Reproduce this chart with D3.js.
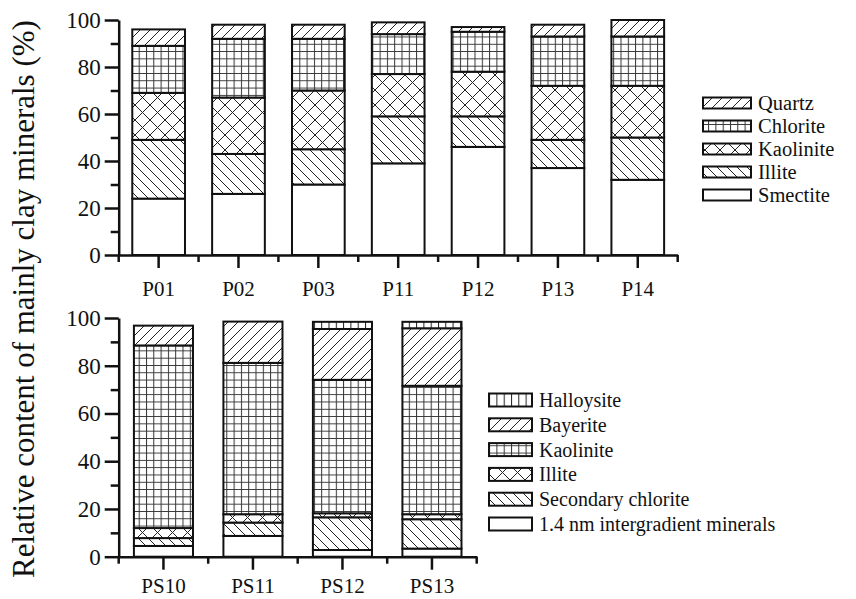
<!DOCTYPE html>
<html>
<head>
<meta charset="utf-8">
<script src="https://cdn.jsdelivr.net/npm/d3@7"></script>
<style>
  html, body { margin: 0; padding: 0; background: #fff; }
  svg { display: block; font-family: "Liberation Serif", "Times New Roman", serif; }
</style>
</head>
<body>
<svg id="chart" width="856" height="599"></svg>
<script>
// Upper panel: clay minerals in P samples (%)
const topSamples = ["P01", "P02", "P03", "P11", "P12", "P13", "P14"];
const smectite   = [24, 26, 30, 39, 46, 37, 32];
const illiteP    = [25, 17, 15, 20, 13, 12, 18];
const kaoliniteP = [20, 24, 25, 18, 19, 23, 22];
const chloriteP  = [20, 25, 22, 17, 17, 21, 21];
const quartz     = [7, 6, 6, 5, 2, 5, 7];

// Lower panel: clay minerals in PS samples (%)
const bottomSamples  = ["PS10", "PS11", "PS12", "PS13"];
const intergradient  = [4.5, 8.7, 2.8, 3.4];
const secChlorite    = [3.3, 5.6, 13.7, 12.3];
const illitePS       = [4.2, 3.5, 1.7, 2.1];
const kaolinitePS    = [76.5, 63.4, 55.9, 53.8];
const bayerite       = [8.3, 17.3, 21.3, 24.1];
const halloysite     = [0, 0, 3.0, 2.7];

const yTicks = [0, 20, 40, 60, 80, 100];
const yMinor = [10, 30, 50, 70, 90];

const svg = d3.select("#chart");
const defs = svg.append("defs");

// Hatch fills
function hatch(id, w, h, draw) {
  const p = defs.append("pattern").attr("id", id)
    .attr("patternUnits", "userSpaceOnUse").attr("width", w).attr("height", h);
  p.append("rect").attr("width", w).attr("height", h).attr("fill", "#fff");
  draw(p, w, h);
}
const ink = "#222";
hatch("fwd", 10, 10, (p, w, h) => p.append("path")
  .attr("d", `M0,${h} L${w},0 M${-w/2},${h/2} L${w/2},${-h/2} M${w/2},${h*1.5} L${w*1.5},${h/2}`)
  .attr("stroke", ink).attr("stroke-width", 1));
hatch("back", 10, 10, (p, w, h) => p.append("path")
  .attr("d", `M0,0 L${w},${h} M${-w/2},${h/2} L${w/2},${h*1.5} M${w/2},${-h/2} L${w*1.5},${h/2}`)
  .attr("stroke", ink).attr("stroke-width", 1));
hatch("cross", 15, 15, (p, w, h) => p.append("path")
  .attr("d", `M0,0 L${w},${h} M0,${h} L${w},0`)
  .attr("stroke", ink).attr("stroke-width", 1));
hatch("grid", 7.3, 7.3, (p, w, h) => p.append("path")
  .attr("d", `M0.5,0 V${h} M0,0.5 H${w}`)
  .attr("stroke", "#333").attr("stroke-width", 1));
hatch("vert", 7.3, 7.3, (p, w, h) => p.append("path")
  .attr("d", `M0.5,0 V${h}`)
  .attr("stroke", ink).attr("stroke-width", 1));

function panel(cfg) {
  const g = svg.append("g");
  const x = d3.scaleBand().domain(cfg.samples).range(cfg.xRange).padding(0);
  const y = d3.scaleLinear().domain([0, 100]).range(cfg.yRange);
  const barW = x.bandwidth() * 0.66;

  const rows = cfg.samples.map((s, i) => {
    const r = { sample: s };
    cfg.series.forEach(se => r[se.key] = se.values[i]);
    return r;
  });
  const stack = d3.stack().keys(cfg.series.map(s => s.key))(rows);

  stack.forEach((layer, li) => {
    const se = cfg.series[li];
    g.append("g").selectAll("rect").data(layer.filter(d => d[1] - d[0] > 0)).join("rect")
      .attr("x", d => x(d.data.sample) + (x.bandwidth() - barW) / 2)
      .attr("width", barW)
      .attr("y", d => y(d[1]))
      .attr("height", d => y(d[0]) - y(d[1]))
      .attr("fill", se.fill)
      .attr("stroke", "#111")
      .attr("stroke-width", 2);
  });

  // y axis: major and minor ticks
  const yAxis = g.append("g").attr("transform", `translate(${cfg.xRange[0]},0)`)
    .call(d3.axisLeft(y).tickValues(yTicks).tickSize(14).tickSizeOuter(0).tickPadding(4));
  g.append("g").attr("transform", `translate(${cfg.xRange[0]},0)`)
    .call(d3.axisLeft(y).tickValues(yMinor).tickSize(8).tickFormat(""))
    .call(a => a.select(".domain").remove());
  yAxis.selectAll("text").attr("font-size", cfg.tickFont).attr("fill", "#111")
    .attr("font-family", "Liberation Serif");

  // x axis: major ticks at sample centres, minor ticks at band edges
  const xAxis = g.append("g").attr("transform", `translate(0,${cfg.yRange[0]})`)
    .call(d3.axisBottom(x).tickSize(13).tickSizeOuter(0).tickPadding(cfg.catPad));
  xAxis.selectAll("text").attr("font-size", cfg.catFont).attr("fill", "#111")
    .attr("font-family", "Liberation Serif");
  const edges = cfg.samples.map(s => x(s)).concat([x(cfg.samples[cfg.samples.length - 1]) + x.step()]);
  g.append("g").selectAll("line").data(edges).join("line")
    .attr("x1", d => d).attr("x2", d => d)
    .attr("y1", cfg.yRange[0]).attr("y2", cfg.yRange[0] + 7)
    .attr("stroke", "#111").attr("stroke-width", 2.5);

  g.selectAll(".domain").attr("stroke", "#111").attr("stroke-width", 2.5);
  g.selectAll(".tick line").attr("stroke", "#111").attr("stroke-width", 2.5);

  // legend, top entry first
  const lg = g.append("g");
  const items = cfg.series.slice().reverse();
  items.forEach((se, i) => {
    const cy = cfg.legend.y0 + i * cfg.legend.dy;
    lg.append("rect").attr("x", cfg.legend.x).attr("y", cy - cfg.legend.h / 2)
      .attr("width", cfg.legend.w).attr("height", cfg.legend.h)
      .attr("fill", se.fill).attr("stroke", "#111").attr("stroke-width", 2);
    lg.append("text").attr("x", cfg.legend.x + cfg.legend.w + 7).attr("y", cy)
      .attr("dy", "0.35em").attr("font-size", cfg.legend.font).attr("fill", "#111")
      .text(se.label);
  });
}

panel({
  samples: topSamples,
  xRange: [118.7, 677.7],
  yRange: [255, 20],
  tickFont: 23, catFont: 21, catPad: 13,
  series: [
    { key: "smectite", label: "Smectite", values: smectite, fill: "#fff" },
    { key: "illite", label: "Illite", values: illiteP, fill: "url(#back)" },
    { key: "kaolinite", label: "Kaolinite", values: kaoliniteP, fill: "url(#cross)" },
    { key: "chlorite", label: "Chlorite", values: chloriteP, fill: "url(#grid)" },
    { key: "quartz", label: "Quartz", values: quartz, fill: "url(#fwd)" }
  ],
  legend: { x: 703, y0: 103, dy: 23, w: 48, h: 11, font: 20.5 }
});

panel({
  samples: bottomSamples,
  xRange: [118.7, 476.7],
  yRange: [556.7, 318],
  tickFont: 23, catFont: 21, catPad: 8,
  series: [
    { key: "inter", label: "1.4 nm intergradient minerals", values: intergradient, fill: "#fff" },
    { key: "secchl", label: "Secondary chlorite", values: secChlorite, fill: "url(#back)" },
    { key: "illite", label: "Illite", values: illitePS, fill: "url(#cross)" },
    { key: "kaolinite", label: "Kaolinite", values: kaolinitePS, fill: "url(#grid)" },
    { key: "bayerite", label: "Bayerite", values: bayerite, fill: "url(#fwd)" },
    { key: "halloysite", label: "Halloysite", values: halloysite, fill: "url(#vert)" }
  ],
  legend: { x: 489, y0: 400, dy: 24.8, w: 43, h: 13, font: 20 }
});

// shared y-axis title
svg.append("text")
  .attr("transform", "translate(34,299) rotate(-90)")
  .attr("text-anchor", "middle")
  .attr("font-size", 31).attr("fill", "#111")
  .text("Relative content of mainly clay minerals (%)");
</script>
</body>
</html>
